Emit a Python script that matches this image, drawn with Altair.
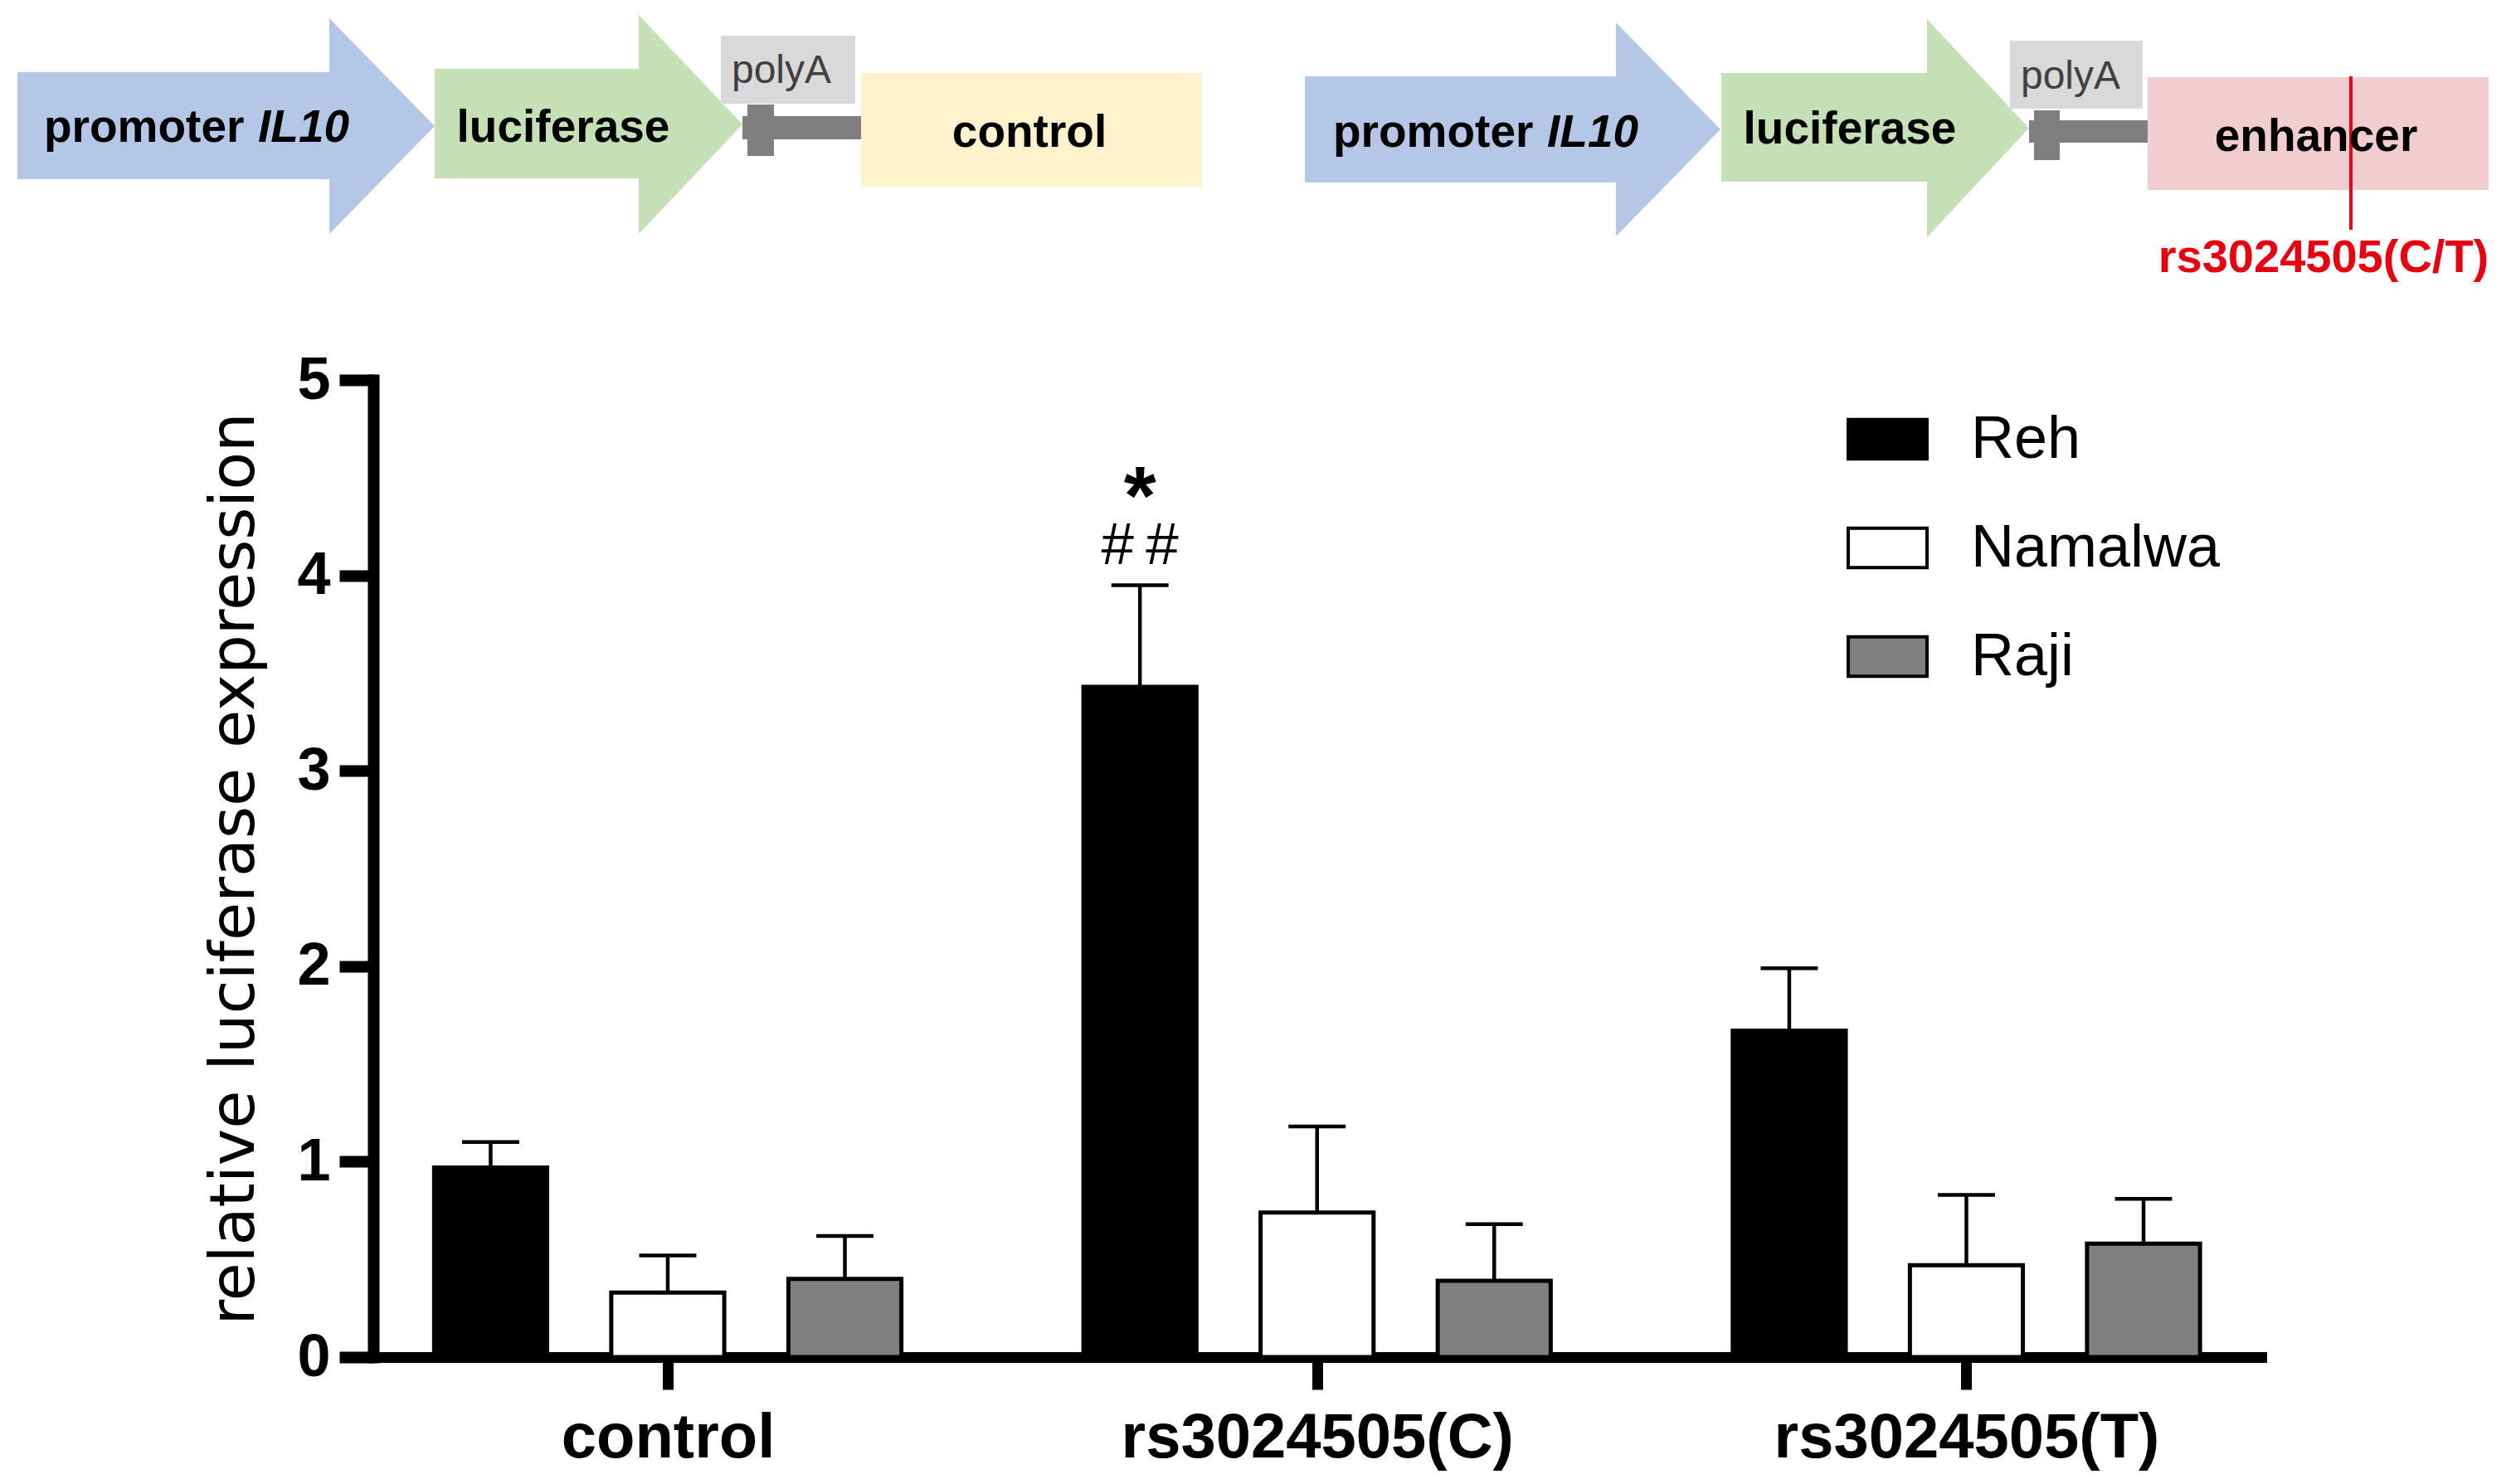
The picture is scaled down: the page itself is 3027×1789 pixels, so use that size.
import altair as alt
import pandas as pd

# ---------------- data ----------------
categories = ["control", "rs3024505(C)", "rs3024505(T)"]
series = ["Reh", "Namalwa", "Raji"]
series_fill = ["#000000", "#ffffff", "#808080"]

reh_mean = [0.97, 3.43, 1.67]
reh_sem = [0.13, 0.52, 0.32]
namalwa_mean = [0.33, 0.74, 0.47]
namalwa_sem = [0.19, 0.44, 0.36]
raji_mean = [0.40, 0.39, 0.58]
raji_sem = [0.22, 0.29, 0.23]

y_ticks = [0, 1, 2, 3, 4, 5]
y_title = "relative luciferase expression"

# significance marks
sig_category = "rs3024505(C)"
sig_series = "Reh"
sig_star = "*"
sig_hash = "#\u2009#"

means = {"Reh": reh_mean, "Namalwa": namalwa_mean, "Raji": raji_mean}
sems = {"Reh": reh_sem, "Namalwa": namalwa_sem, "Raji": raji_sem}

rows = []
for ci, c in enumerate(categories):
    for si, s in enumerate(series):
        rows.append({"category": c, "ci": ci, "series": s, "si": si,
                     "mean": means[s][ci], "sem": sems[s][ci]})
df = pd.DataFrame(rows)

# ---------------- schematic (construct diagram) layout, page pixels ----------------
shaft_x1 = [21, 524, 1573, 2075]
shaft_x2 = [398, 771, 1949, 2324]
shaft_y1 = [87, 83, 92, 88]
shaft_y2 = [216, 215, 220, 219]
shaft_fill = ["#B4C7E7", "#C5E0B4", "#B4C7E7", "#C5E0B4"]

head_base = [397, 770, 1948, 2323]
head_tip = [524, 895, 2074, 2446]
head_top = [22, 18, 27, 23]
head_bot = [282, 282, 285, 286]
head_fill = ["#B4C7E7", "#C5E0B4", "#B4C7E7", "#C5E0B4"]

box_x1 = [869, 1038, 895, 901, 2423, 2589, 2446, 2452]
box_x2 = [1031, 1449, 1038, 933, 2583, 3000, 2589, 2483]
box_y1 = [43, 88, 140, 126, 49, 93, 145, 133]
box_y2 = [125, 225, 168, 188, 131, 229, 172, 193]
box_fill = ["#D9D9D9", "#FFF2CC", "#7F7F7F", "#7F7F7F",
            "#D9D9D9", "#F2CDD0", "#7F7F7F", "#7F7F7F"]

bold_text = ["promoter", "luciferase", "control", "promoter", "luciferase", "enhancer"]
bold_x = [53, 679, 1241, 1607, 2230, 2792]
bold_y = [171, 171, 177, 177, 173, 182]
bold_align = ["left", "center", "center", "left", "center", "center"]

italic_text = ["IL10", "IL10"]
italic_x = [311, 1865]
italic_y = [171, 177]

polya_text = ["polyA", "polyA"]
polya_x = [942, 2496]
polya_y = [100, 107]

snp_text = "rs3024505(C/T)"
snp_x = 2801
snp_y = 328
snp_line_x = 2834
snp_line_y1 = 92
snp_line_y2 = 277

# ---------------- scales ----------------
xs = alt.Scale(domain=[-0.4535, 2.4542], nice=False, zero=False)
ys = alt.Scale(domain=[0, 5], nice=False, zero=False)
dxs = alt.Scale(domain=[450, 2726], nice=False, zero=False)
dys = alt.Scale(domain=[458, 1636], reverse=True, nice=False, zero=False)

label_expr = "[" + ",".join("'" + c + "'" for c in categories) + "][datum.value]"

x_axis = alt.Axis(values=[0, 1, 2], labelExpr=label_expr, labelAngle=0,
                  labelFont="Liberation Sans", labelFontWeight="bold", labelFontSize=76,
                  labelColor="black", labelPadding=21, labelLimit=2000, tickSize=39,
                  tickWidth=13, tickColor="black", domainWidth=13, domainColor="black",
                  domainCap="square", grid=False, title=None)
y_axis = alt.Axis(values=y_ticks, format="d", labelFont="Liberation Sans",
                  labelFontWeight="bold", labelFontSize=72, labelColor="black",
                  labelPadding=11, tickSize=41, tickWidth=14, tickColor="black",
                  domainWidth=14, domainColor="black", domainCap="square", grid=False,
                  title=y_title, titleFont="DejaVu Sans", titleFontSize=75,
                  titleFontWeight="normal", titleColor="black", titleX=-145, titleY=589,
                  titleAngle=-90, titleBaseline="alphabetic", titleAlign="center",
                  titleLimit=3000)

base = alt.Chart(df).transform_calculate(
    xc="datum.ci + (datum.si - 1) * 0.2728"
).transform_calculate(
    xl="datum.xc - 0.087", xr="datum.xc + 0.087",
    cl="datum.xc - 0.044", cr="datum.xc + 0.044",
    top="datum.mean + datum.sem"
)

legend = alt.Legend(title=None, orient="none", legendX=1776, legendY=22,
                    symbolType="M-1,-0.5L1,-0.5L1,0.5L-1,0.5Z", symbolSize=9025,
                    symbolStrokeColor="black", symbolStrokeWidth=4,
                    labelFont="Liberation Sans", labelFontSize=72, labelColor="black",
                    labelOffset=51, rowPadding=45, padding=0, labelLimit=800)

bars = base.mark_rect(stroke="black", strokeWidth=5).encode(
    x=alt.X("xl:Q", scale=xs, axis=x_axis),
    x2="xr:Q",
    y=alt.Y("mean:Q", scale=ys, axis=y_axis),
    y2=alt.datum(0),
    fill=alt.Fill("series:N", scale=alt.Scale(domain=series, range=series_fill),
                  legend=legend),
)

err = base.mark_rule(color="black", strokeWidth=4.5).encode(
    x=alt.X("xc:Q", scale=xs, axis=None),
    y=alt.Y("mean:Q", scale=ys, axis=None),
    y2="top:Q",
)
cap = base.mark_rule(color="black", strokeWidth=4.5).encode(
    x=alt.X("cl:Q", scale=xs, axis=None),
    x2="cr:Q",
    y=alt.Y("top:Q", scale=ys, axis=None),
)

sig = base.transform_filter(
    (alt.datum.category == sig_category) & (alt.datum.series == sig_series)
)
star = sig.mark_text(text=sig_star, font="Liberation Sans", fontWeight="bold",
                     fontSize=100, baseline="alphabetic", align="center", dy=-73,
                     color="black").encode(
    x=alt.X("xc:Q", scale=xs, axis=None), y=alt.Y("top:Q", scale=ys, axis=None))
hashes = sig.mark_text(text=sig_hash, font="Liberation Sans", fontSize=71,
                       baseline="alphabetic", align="center", dy=-25,
                       color="black").encode(
    x=alt.X("xc:Q", scale=xs, axis=None), y=alt.Y("top:Q", scale=ys, axis=None))

# ---------------- schematic layers ----------------
shaft_df = pd.DataFrame({"x1": shaft_x1, "x2": shaft_x2, "y1": shaft_y1,
                         "y2": shaft_y2, "fill": shaft_fill})
shafts = alt.Chart(shaft_df).mark_rect().encode(
    x=alt.X("x1:Q", scale=dxs, axis=None), x2="x2:Q",
    y=alt.Y("y1:Q", scale=dys, axis=None), y2="y2:Q",
    color=alt.Color("fill:N", scale=None))

head_rows = []
for i in range(len(head_base)):
    mid = (head_top[i] + head_bot[i]) / 2
    head_rows.append({"id": i, "x": head_base[i], "y": head_top[i], "y2": head_bot[i],
                      "fill": head_fill[i]})
    head_rows.append({"id": i, "x": head_tip[i], "y": mid, "y2": mid,
                      "fill": head_fill[i]})
heads = alt.Chart(pd.DataFrame(head_rows)).mark_area(orient="vertical").encode(
    x=alt.X("x:Q", scale=dxs, axis=None),
    y=alt.Y("y:Q", scale=dys, axis=None, stack=None), y2="y2:Q",
    detail="id:N", color=alt.Color("fill:N", scale=None))

box_df = pd.DataFrame({"x1": box_x1, "x2": box_x2, "y1": box_y1,
                       "y2": box_y2, "fill": box_fill})
boxes = alt.Chart(box_df).mark_rect().encode(
    x=alt.X("x1:Q", scale=dxs, axis=None), x2="x2:Q",
    y=alt.Y("y1:Q", scale=dys, axis=None), y2="y2:Q",
    color=alt.Color("fill:N", scale=None))

snp_line = alt.Chart(pd.DataFrame({"x": [snp_line_x], "y1": [snp_line_y1],
                                   "y2": [snp_line_y2]})).mark_rule(
    color="#E60012", strokeWidth=4).encode(
    x=alt.X("x:Q", scale=dxs, axis=None),
    y=alt.Y("y1:Q", scale=dys, axis=None), y2="y2:Q")

bold_df = pd.DataFrame({"t": bold_text, "x": bold_x, "y": bold_y, "a": bold_align})
bold_left = alt.Chart(bold_df[bold_df.a == "left"]).mark_text(
    font="Liberation Sans", fontWeight="bold", fontSize=55, align="left",
    baseline="alphabetic", color="black").encode(
    x=alt.X("x:Q", scale=dxs, axis=None), y=alt.Y("y:Q", scale=dys, axis=None),
    text="t:N")
bold_center = alt.Chart(bold_df[bold_df.a == "center"]).mark_text(
    font="Liberation Sans", fontWeight="bold", fontSize=55, align="center",
    baseline="alphabetic", color="black").encode(
    x=alt.X("x:Q", scale=dxs, axis=None), y=alt.Y("y:Q", scale=dys, axis=None),
    text="t:N")
italic = alt.Chart(pd.DataFrame({"t": italic_text, "x": italic_x, "y": italic_y})).mark_text(
    font="Liberation Sans", fontWeight="bold", fontStyle="italic", fontSize=55,
    align="left", baseline="alphabetic", color="black").encode(
    x=alt.X("x:Q", scale=dxs, axis=None), y=alt.Y("y:Q", scale=dys, axis=None),
    text="t:N")
polya = alt.Chart(pd.DataFrame({"t": polya_text, "x": polya_x, "y": polya_y})).mark_text(
    font="Liberation Sans", fontSize=48, align="center", baseline="alphabetic",
    color="#404040").encode(
    x=alt.X("x:Q", scale=dxs, axis=None), y=alt.Y("y:Q", scale=dys, axis=None),
    text="t:N")
snp_label = alt.Chart(pd.DataFrame({"t": [snp_text], "x": [snp_x], "y": [snp_y]})).mark_text(
    font="Liberation Sans", fontWeight="bold", fontSize=56, align="center",
    baseline="alphabetic", color="#E60012").encode(
    x=alt.X("x:Q", scale=dxs, axis=None), y=alt.Y("y:Q", scale=dys, axis=None),
    text="t:N")

chart = alt.layer(
    shafts, heads, boxes, snp_line, bold_left, bold_center, italic, polya, snp_label,
    bars, err, cap, star, hashes
).resolve_scale(
    x="independent", y="independent", color="independent", fill="independent"
).properties(
    width=2276, height=1178,
    autosize=alt.AutoSizeParams(type="none"),
    padding={"left": 442, "top": 450, "right": 290, "bottom": 140},
).configure_view(stroke=None)

chart.save("out.html", embed_options={"renderer": "svg", "actions": False})
